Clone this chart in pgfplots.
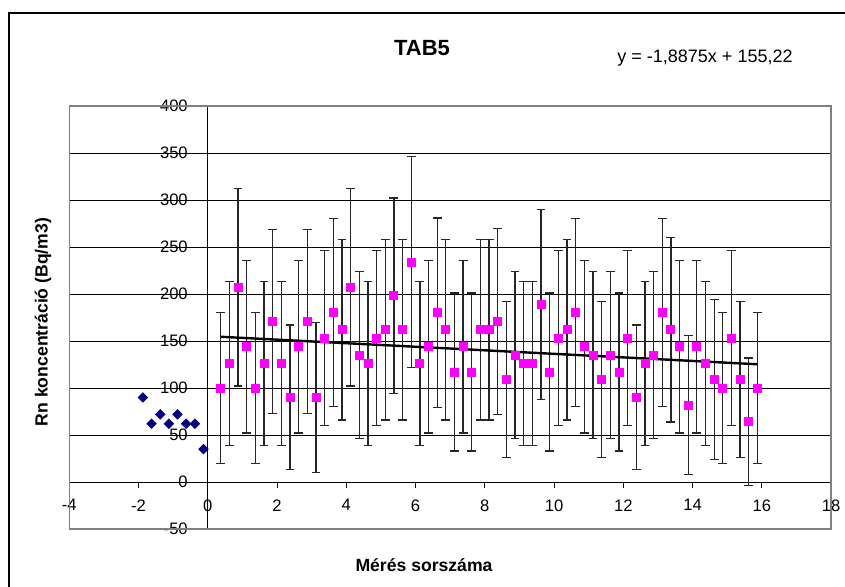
\documentclass[border=0pt]{standalone}
\usepackage{pgfplots}
\pgfplotsset{compat=1.18}
\usepackage{pgfplotstable}
\usepackage{fontspec}
\setmainfont{Liberation Sans}
\definecolor{mag}{RGB}{255,0,255}
\definecolor{navyb}{RGB}{0,0,128}

\pgfplotstableread{
x y e
0.375 100 80
0.625 126 87
0.875 207 105
1.125 144 92
1.375 100 80
1.625 126 87
1.875 171 98
2.125 126 87
2.375 90 77
2.625 144 92
2.875 171 98
3.125 90 80
3.375 153 93
3.625 180 100
3.875 162 96
4.125 207 105
4.375 135 89
4.625 126 87
4.875 153 93
5.125 162 96
5.375 198 104
5.625 162 96
5.875 234 112
6.125 126 87
6.375 144 92
6.625 180 101
6.875 162 96
7.125 117 84
7.375 144 92
7.625 117 84
7.875 162 96
8.125 162 96
8.375 171 99
8.625 109 83
8.875 135 89
9.125 126 87
9.375 126 87
9.625 189 101
9.875 117 84
10.125 153 93
10.375 162 96
10.625 180 100
10.875 144 92
11.125 135 89
11.375 109 83
11.625 135 89
11.875 117 84
12.125 153 93
12.375 90 77
12.625 126 87
12.875 135 89
13.125 180 100
13.375 162 98
13.625 144 92
13.875 82 74
14.125 144 92
14.375 126 87
14.625 109 85
14.875 100 80
15.125 153 93
15.375 109 83
15.625 64 68
15.875 100 80
}\tabmag

\pgfplotstableread{
x y
-1.875 90
-1.625 62
-1.375 72
-1.125 62
-0.875 72
-0.625 62
-0.375 62
-0.125 35
}\tabblue

\begin{document}
\begin{tikzpicture}[x=1pt,y=1pt]
\useasboundingbox (0,0) rectangle (422.5,293);
\draw[line width=1pt] (4.5,-5) -- (4.5,286.5) -- (430,286.5);
\begin{axis}[
  at={(34.65pt,28.5pt)}, anchor=south west,
  scale only axis, width=380.85pt, height=211.5pt,
  xmin=-4, xmax=18, ymin=-50, ymax=400,
  axis lines*=middle,
  hide obscured x ticks=false, hide obscured y ticks=false,
  xtick={-4,-2,...,18}, ytick={-50,0,...,400},
  tick align=outside, major tick length=3pt,
  ymajorgrids, grid style={black, line width=0.5pt},
  axis line style={black, line width=0.5pt},
  tick style={black, line width=0.5pt},
  tick label style={font=\fontsize{8.3}{9}\selectfont},
  xticklabel style={yshift=-2.2pt},
  yticklabel style={xshift=-3.5pt},
  /pgf/number format/assume math mode=true,
  clip=false,
]
\draw[gray, line width=0.75pt] (rel axis cs:0,0) rectangle (rel axis cs:1,1);
\addplot[only marks, mark=square*, mark size=1.65pt, color=navyb, mark options={rotate=45, fill=navyb, draw=navyb}] table[x=x, y=y]{\tabblue};
\addplot[only marks, mark=square*, mark size=2pt, color=mag, mark options={fill=mag, draw=mag},
  error bars/.cd, y dir=both, y explicit,
  error bar style={color=black!85, line width=0.65pt},
  error mark options={rotate=90, mark size=2.2pt, black!85, line width=0.65pt}]
  table[x=x, y=y, y error=e]{\tabmag};
\addplot[black, line width=1.2pt] coordinates {(0.375,154.51) (15.875,125.26)};
\end{axis}
\node at (211,269) {\bfseries\fontsize{11}{13}\selectfont TAB5};
\node at (352.5,264) {\fontsize{9}{11}\selectfont y = -1,8875x + 155,22};
\node[rotate=90] at (21.5,132) {\bfseries\fontsize{8.8}{10}\selectfont Rn koncentráció (Bq/m3)};
\node at (212,10.5) {\bfseries\fontsize{8.8}{10}\selectfont Mérés sorszáma};
\end{tikzpicture}
\end{document}
